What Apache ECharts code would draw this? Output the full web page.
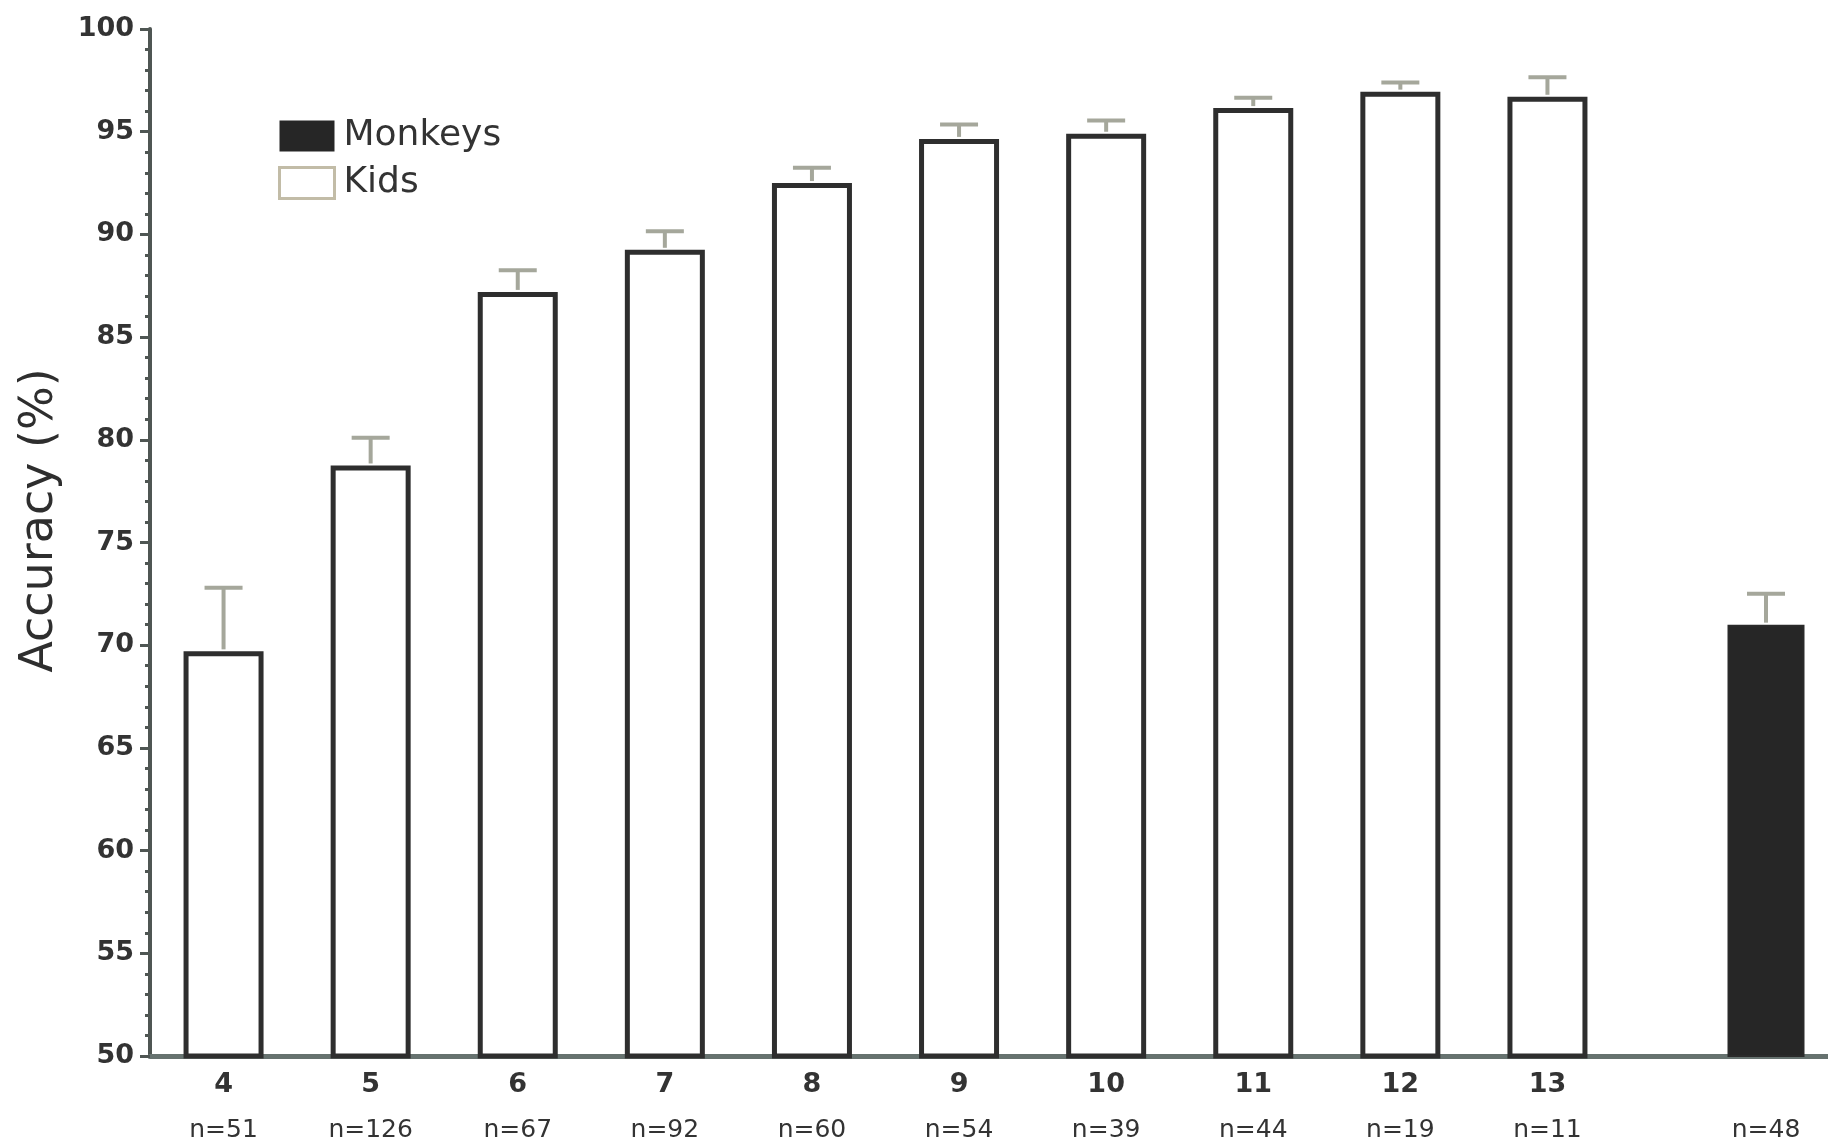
<!DOCTYPE html>
<html><head><meta charset="utf-8">
<script src="https://cdn.jsdelivr.net/npm/echarts@6/dist/echarts.min.js"></script>
<style>html,body{margin:0;padding:0;background:#fff}#c{width:1828px;height:1143px}</style>
</head><body><div id="c"></div>
<script>
// ---- data ----
const kidsAges = ['4', '5', '6', '7', '8', '9', '10', '11', '12', '13'];
const kidsN = ['n=51', 'n=126', 'n=67', 'n=92', 'n=60', 'n=54', 'n=39', 'n=44', 'n=19', 'n=11'];
const kidsMean = [69.7, 78.75, 87.2, 89.25, 92.5, 94.65, 94.9, 96.15, 96.95, 96.7];
const kidsSem = [3.1, 1.35, 1.05, 0.9, 0.75, 0.7, 0.65, 0.5, 0.45, 0.95];
const monkeyCat = ['Monkeys'];
const monkeyN = ['n=48'];
const monkeyMean = [71.0];
const monkeySem = [1.5];
const yMin = 50, yMax = 100, yStep = 5;

// ---- chart ----
const FONT = 'DejaVu Sans';
const AX = '#4f5653';
const ERR = '#a5a79b';
const chart = echarts.init(document.getElementById('c'), null, {renderer: 'canvas'});

function errItem(params, api) {
  const x = api.value(0), m = api.value(1), e = api.value(2);
  const base = api.coord([x, m]);
  const top = api.coord([x, m + e]);
  const half = 19;
  return {type: 'group', children: [
    {type: 'line', shape: {x1: base[0], y1: base[1] - 2, x2: top[0], y2: top[1]}, style: {stroke: ERR, lineWidth: 4}},
    {type: 'line', shape: {x1: top[0] - half, y1: top[1], x2: top[0] + half, y2: top[1]}, style: {stroke: ERR, lineWidth: 4}}
  ]};
}

const labelRich = {
  a: {fontFamily: FONT, fontSize: 27, fontWeight: 'bold', lineHeight: 46, color: '#333'},
  n: {fontFamily: FONT, fontSize: 25, lineHeight: 44, color: '#333'}
};

const option = {
  backgroundColor: '#fff',
  animation: false,
  legend: {
    orient: 'vertical', left: 278, top: 116, padding: 0,
    itemWidth: 55, itemHeight: 31, itemGap: 7,
    textStyle: {fontFamily: FONT, fontSize: 36, lineHeight: 35, color: '#333', padding: [5, 0, 0, 4]},
    data: [
      {name: 'Monkeys', icon: 'rect', itemStyle: {color: '#262626', borderWidth: 0}},
      {name: 'Kids', icon: 'rect', itemStyle: {color: '#fff', borderColor: '#c2bca7', borderWidth: 3}}
    ]
  },
  grid: [
    {left: 150, top: 29, width: 1471, bottom: 87, outerBoundsMode: 'none'},
    {left: 1621, top: 29, width: 290, bottom: 87, outerBoundsMode: 'none'}
  ],
  xAxis: [
    {type: 'category', gridIndex: 0, data: kidsAges,
     axisLine: {onZero: false, lineStyle: {color: '#66726f', width: 5}},
     axisTick: {show: false},
     axisLabel: {interval: 0, margin: 6, formatter: (v, i) => `{a|${v}}\n{n|${kidsN[i]}}`, rich: labelRich}},
    {type: 'category', gridIndex: 1, data: monkeyCat,
     axisLine: {onZero: false, lineStyle: {color: '#66726f', width: 5}},
     axisTick: {show: false},
     axisLabel: {interval: 0, margin: 6, formatter: (v, i) => `{a| }\n{n|${monkeyN[i]}}`, rich: labelRich}}
  ],
  yAxis: [
    {type: 'value', gridIndex: 0, min: yMin, max: yMax, interval: yStep,
     name: 'Accuracy (%)', nameLocation: 'middle', nameGap: 87,
     nameTextStyle: {fontFamily: FONT, fontSize: 46, color: '#2e2e2e', padding: [0, 0, 0, 44]},
     axisLine: {show: true, lineStyle: {color: AX, width: 4}},
     axisTick: {show: true, length: 10, lineStyle: {color: AX, width: 3}},
     minorTick: {show: true, splitNumber: 5, length: 5, lineStyle: {color: AX, width: 3}},
     splitLine: {show: false},
     axisLabel: {margin: 16, fontFamily: FONT, fontSize: 27, fontWeight: 'bold', color: '#333'}},
    {type: 'value', gridIndex: 1, min: yMin, max: yMax, show: false, splitLine: {show: false}}
  ],
  series: [
    {name: 'Kids', type: 'bar', xAxisIndex: 0, yAxisIndex: 0, data: kidsMean, barWidth: 80,
     itemStyle: {color: '#fff', borderColor: '#2e2e2e', borderWidth: 5}},
    {name: 'Monkeys', type: 'bar', xAxisIndex: 1, yAxisIndex: 1, data: monkeyMean, barWidth: 77,
     itemStyle: {color: '#262626', borderColor: '#2a2a2a', borderWidth: 2}},
    {name: 'kidsErr', type: 'custom', xAxisIndex: 0, yAxisIndex: 0, z: 5,
     data: kidsMean.map((m, i) => [i, m, kidsSem[i]]), encode: {x: 0, y: 1}, renderItem: errItem},
    {name: 'monkeyErr', type: 'custom', xAxisIndex: 1, yAxisIndex: 1, z: 5,
     data: monkeyMean.map((m, i) => [i, m, monkeySem[i]]), encode: {x: 0, y: 1}, renderItem: errItem}
  ]
};
chart.setOption(option);
</script>
</body></html>
